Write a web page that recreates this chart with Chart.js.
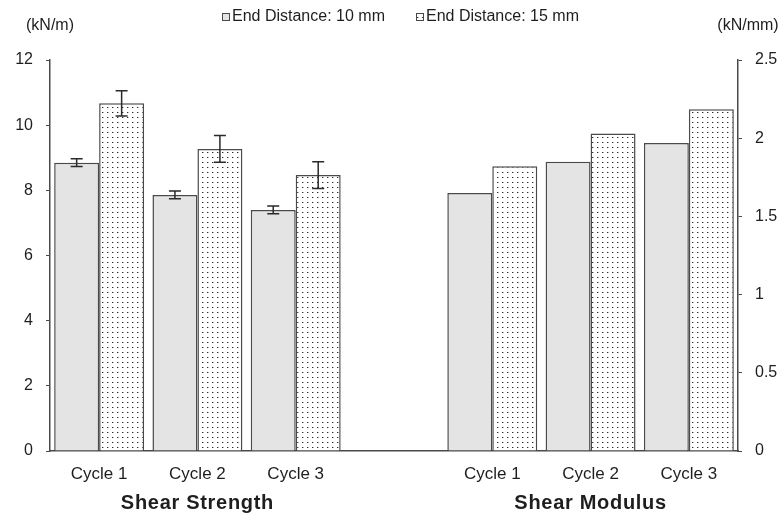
<!DOCTYPE html>
<html>
<head>
<meta charset="utf-8">
<script src="https://cdn.jsdelivr.net/npm/chart.js@4"></script>
<style>
  html, body { margin: 0; padding: 0; background: #fff; }
  #wrap { width: 784px; height: 517px; position: relative; }
</style>
</head>
<body>
<div id="wrap"><canvas id="c" width="784" height="517"></canvas></div>
<script>
// ---- data ----
const categories = ['Cycle 1', 'Cycle 2', 'Cycle 3', '', 'Cycle 1', 'Cycle 2', 'Cycle 3'];
const seriesNames = ['End Distance: 10 mm', 'End Distance: 15 mm'];
const groupTitles = ['Shear Strength', 'Shear Modulus'];
const unitLeft = '(kN/m)';
const unitRight = '(kN/mm)';
const strength10 = [8.85, 7.86, 7.40];
const strength15 = [10.67, 9.27, 8.47];
const strengthErr10 = [0.12, 0.12, 0.12];
const strengthErr15 = [0.39, 0.41, 0.41];
const modulus10 = [1.65, 1.85, 1.97];
const modulus15 = [1.82, 2.03, 2.185];
const leftTicks = { min: 0, max: 12, step: 2 };
const rightTicks = { min: 0, max: 2.5, step: 0.5 };

// ---- helpers ----
const FONT = '"Liberation Sans", Arial, sans-serif';
const TEXT = '#1e1e1e';
const EDGE = '#4a4a4a';
const GRAY = '#e4e4e4';

function makeDots() {
  const p = document.createElement('canvas');
  p.width = 5; p.height = 5;
  const g = p.getContext('2d');
  g.fillStyle = '#ffffff';
  g.fillRect(0, 0, 5, 5);
  g.fillStyle = '#2a2a2a';
  g.fillRect(2, 2, 1, 1);
  g.fillStyle = 'rgba(40,40,40,0.35)';
  g.fillRect(3, 2, 1, 1);
  return g.createPattern(p, 'repeat');
}
const dots = makeDots();

const pad = (arr, before, after) => [...Array(before).fill(null), ...arr, ...Array(after).fill(null)];

const datasets = [
  { label: seriesNames[0], data: pad(strength10, 0, 4), errors: pad(strengthErr10, 0, 4), yAxisID: 'y', stack: 'a', backgroundColor: GRAY },
  { label: seriesNames[1], data: pad(strength15, 0, 4), errors: pad(strengthErr15, 0, 4), yAxisID: 'y', stack: 'b', backgroundColor: dots },
  { label: seriesNames[0], data: pad(modulus10, 4, 0), yAxisID: 'y1', stack: 'a', backgroundColor: GRAY },
  { label: seriesNames[1], data: pad(modulus15, 4, 0), yAxisID: 'y1', stack: 'b', backgroundColor: dots }
].map(d => Object.assign(d, {
  borderColor: EDGE,
  borderWidth: 1.5,
  borderSkipped: 'bottom',
  categoryPercentage: 0.915,
  barPercentage: 1.0
}));

const extras = {
  id: 'extras',
  afterDatasetsDraw(chart) {
    const ctx = chart.ctx;
    ctx.save();
    ctx.strokeStyle = '#2a2a2a';
    ctx.lineWidth = 1.5;
    chart.data.datasets.forEach((ds, di) => {
      if (!ds.errors) return;
      const meta = chart.getDatasetMeta(di);
      const ys = chart.scales[ds.yAxisID];
      ds.data.forEach((v, i) => {
        const e = ds.errors[i];
        if (v == null || e == null) return;
        const x = meta.data[i].x;
        const yt = ys.getPixelForValue(v + e);
        const yb = ys.getPixelForValue(v - e);
        ctx.beginPath();
        ctx.moveTo(x, yt); ctx.lineTo(x, yb);
        ctx.moveTo(x - 6, yt); ctx.lineTo(x + 6, yt);
        ctx.moveTo(x - 6, yb); ctx.lineTo(x + 6, yb);
        ctx.stroke();
      });
    });
    ctx.restore();
  },
  afterDraw(chart) {
    const ctx = chart.ctx;
    ctx.save();
    ctx.fillStyle = TEXT;
    ctx.textBaseline = 'middle';
    // unit labels
    ctx.font = '16px ' + FONT;
    ctx.textAlign = 'center';
    ctx.fillText(unitLeft, 50, 26);
    ctx.fillText(unitRight, 748, 26);
    // legend
    ctx.textAlign = 'left';
    const items = [
      { x: 222, fill: GRAY, text: seriesNames[0] },
      { x: 416, fill: dots, text: seriesNames[1] }
    ];
    items.forEach(it => {
      ctx.fillStyle = it.fill;
      ctx.fillRect(it.x, 13, 8, 8);
      ctx.strokeStyle = EDGE;
      ctx.lineWidth = 1;
      ctx.strokeRect(it.x + 0.5, 13.5, 7, 7);
      ctx.fillStyle = TEXT;
      ctx.fillText(it.text, it.x + 10, 17);
    });
    // group titles
    const xs = chart.scales.x;
    ctx.font = 'bold 20px ' + FONT;
    ctx.letterSpacing = '0.7px';
    ctx.textAlign = 'center';
    ctx.fillText(groupTitles[0], xs.getPixelForValue(1), 503);
    ctx.fillText(groupTitles[1], xs.getPixelForValue(5), 503);
    ctx.restore();
  }
};

const plainNum = v => String(+v.toFixed(2));

new Chart(document.getElementById('c'), {
  type: 'bar',
  data: { labels: categories, datasets },
  options: {
    responsive: false,
    animation: false,
    devicePixelRatio: 1,
    layout: { padding: { top: 60, bottom: 0, left: 0, right: 0 } },
    plugins: { legend: { display: false }, tooltip: { enabled: false } },
    scales: {
      x: {
        grid: { display: false },
        border: { display: true, color: EDGE, width: 1.5 },
        ticks: { color: TEXT, font: { family: FONT, size: 17 }, padding: 5, maxRotation: 0, autoSkip: false },
        afterFit(s) { s.height = 66; }
      },
      y: {
        position: 'left',
        stacked: false,
        min: leftTicks.min, max: leftTicks.max,
        grid: { drawOnChartArea: false, drawTicks: true, tickLength: 4, color: EDGE },
        border: { display: true, color: EDGE, width: 1.5 },
        ticks: { stepSize: leftTicks.step, color: TEXT, font: { family: FONT, size: 16 }, padding: 13, callback: plainNum },
        afterFit(s) { s.width = 50; }
      },
      y1: {
        position: 'right',
        stacked: false,
        min: rightTicks.min, max: rightTicks.max,
        grid: { drawOnChartArea: false, drawTicks: true, tickLength: 4, color: EDGE },
        border: { display: true, color: EDGE, width: 1.5 },
        ticks: { stepSize: rightTicks.step, color: TEXT, font: { family: FONT, size: 16 }, padding: 13, callback: plainNum },
        afterFit(s) { s.width = 46; }
      }
    }
  },
  plugins: [extras]
});
</script>
</body>
</html>
